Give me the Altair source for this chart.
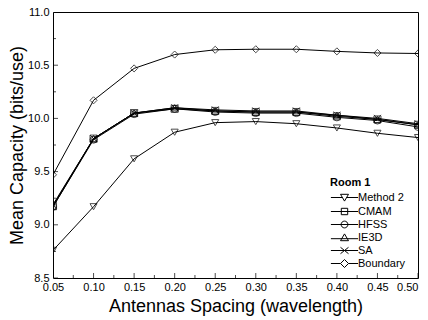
import altair as alt
import pandas as pd

spacing = [0.05, 0.10, 0.15, 0.20, 0.25, 0.30, 0.35, 0.40, 0.45, 0.50]
series_names = ["Method 2", "CMAM", "HFSS", "IE3D", "SA", "Boundary"]
method2 = [8.76, 9.17, 9.62, 9.87, 9.96, 9.97, 9.95, 9.91, 9.86, 9.82]
cmam = [9.18, 9.81, 10.05, 10.09, 10.07, 10.06, 10.06, 10.02, 9.99, 9.94]
hfss = [9.17, 9.80, 10.04, 10.09, 10.06, 10.05, 10.05, 10.01, 9.98, 9.92]
ie3d = [9.17, 9.81, 10.05, 10.10, 10.07, 10.06, 10.06, 10.03, 9.99, 9.94]
sa = [9.19, 9.81, 10.05, 10.10, 10.08, 10.07, 10.07, 10.03, 10.00, 9.95]
boundary = [9.47, 10.17, 10.47, 10.60, 10.645, 10.65, 10.65, 10.63, 10.615, 10.61]

x_major = [0.05, 0.10, 0.15, 0.20, 0.25, 0.30, 0.35, 0.40, 0.45, 0.50]
x_minor = [0.075, 0.125, 0.175, 0.225, 0.275, 0.325, 0.375, 0.425, 0.475]
y_major = [8.5, 9.0, 9.5, 10.0, 10.5, 11.0]
y_minor = [8.75, 9.25, 9.75, 10.25, 10.75]

values = [method2, cmam, hfss, ie3d, sa, boundary]
rows = []
for name, vals in zip(series_names, values):
    for xv, yv in zip(spacing, vals):
        rows.append({"series": name, "spacing": xv, "capacity": yv})
df = pd.DataFrame(rows)

FONT = "Liberation Sans"
xscale = alt.Scale(domain=[0.05, 0.5], nice=False, zero=False)
yscale = alt.Scale(domain=[8.5, 11.0], nice=False, zero=False)

plot_shapes = [
    "triangle-down",
    "square",
    "circle",
    "triangle-up",
    "M-1,-1L1,1M-1,1L1,-1",
    "diamond",
]
legend_shapes = [
    "M-3.4,0H-0.5M0.5,0H3.4M-1,-0.8L1,-0.8L0,0.9Z",
    "M-3.4,0H3.4M-0.8,-0.8H0.8V0.8H-0.8Z",
    "M-3.4,0H3.4M0.85,0A0.85,0.85 0 1 1 -0.85,0A0.85,0.85 0 1 1 0.85,0Z",
    "M-3.4,0.3H3.4M-1,0.8L1,0.8L0,-0.9Z",
    "M-3.4,0H3.4M-1,-0.8L1,0.8M-1,0.8L1,-0.8",
    "M-3.4,0H-1M1,0H3.4M0,-1L1,0L0,1L-1,0Z",
]

base = alt.Chart(df)

lines = base.mark_line(color="black", strokeWidth=1, clip=True).encode(
    x=alt.X("spacing:Q", scale=xscale,
            axis=alt.Axis(values=x_major, format=".2f",
                          title="Antennas Spacing (wavelength)", ticks=False,
                          tickSize=0, domain=False, grid=False,
                          labelFlush=False, labelOverlap=False,
                          labelAlign={"condition": {"test": "datum.value >= 0.5",
                                                    "value": "right"},
                                      "value": "center"},
                          labelPadding=3, titlePadding=5, orient="bottom")),
    y=alt.Y("capacity:Q", scale=yscale,
            axis=alt.Axis(values=y_major, format=".1f",
                          title="Mean Capacity (bits/use)", ticks=False,
                          tickSize=0, domain=False, grid=False,
                          labelFlush=False, labelOverlap=False,
                          labelPadding=4, titlePadding=1, orient="left")),
    detail="series:N",
    order="spacing:Q",
)

points = base.mark_point(filled=False, color="black", size=50, strokeWidth=1,
                         clip=True).encode(
    x=alt.X("spacing:Q", scale=xscale),
    y=alt.Y("capacity:Q", scale=yscale),
    shape=alt.Shape("series:N",
                    scale=alt.Scale(domain=series_names, range=plot_shapes),
                    legend=None),
)

legend_layer = base.mark_point(filled=False, color="black", size=50,
                               strokeWidth=1, opacity=0, clip=True).encode(
    x=alt.X("spacing:Q", scale=xscale),
    y=alt.Y("capacity:Q", scale=yscale),
    shape=alt.Shape("series:N",
                    scale=alt.Scale(domain=series_names, range=legend_shapes),
                    legend=alt.Legend(title="Room 1", orient="none",
                                      legendX=277, legendY=165, padding=0,
                                      symbolSize=64, symbolOpacity=1,
                                      symbolStrokeColor="black",
                                      symbolFillColor="transparent",
                                      symbolStrokeWidth=1, symbolOffset=9,
                                      labelOffset=8, rowPadding=1,
                                      titlePadding=4, labelFontSize=11,
                                      labelFont=FONT, labelColor="black",
                                      titleFont=FONT, titleFontSize=11,
                                      titleFontWeight="bold",
                                      titleColor="black")),
)


# inward ticks: centred tick marks clipped to the plot area
def x_ticks(vals, size):
    return alt.Chart(pd.DataFrame({"v": vals})).mark_tick(
        color="black", thickness=1, size=2 * size, orient="vertical",
        clip=True
    ).encode(
        x=alt.X("v:Q", scale=xscale),
        y=alt.YDatum(8.5, type="quantitative"),
    )


def y_ticks(vals, size):
    return alt.Chart(pd.DataFrame({"v": vals})).mark_tick(
        color="black", thickness=1, size=2 * size, orient="horizontal",
        clip=True
    ).encode(
        y=alt.Y("v:Q", scale=yscale),
        x=alt.XDatum(0.05, type="quantitative"),
    )


chart = alt.layer(
    lines, points, legend_layer,
    x_ticks(x_major, 5), x_ticks(x_minor, 3),
    y_ticks(y_major, 5), y_ticks(y_minor, 3),
).resolve_scale(
    shape="independent"
).properties(
    width=365, height=266,
    autosize=alt.AutoSizeParams(type="none"),
    padding={"left": 45, "top": 4, "right": 2, "bottom": 42},
).configure_view(
    stroke="black", strokeWidth=1
).configure_axis(
    labelFont=FONT, labelFontSize=11, labelColor="black",
    titleFont=FONT, titleFontSize=18, titleFontWeight="normal",
    titleColor="black",
)

chart.save("out.html", embed_options={"renderer": "svg", "actions": False})
